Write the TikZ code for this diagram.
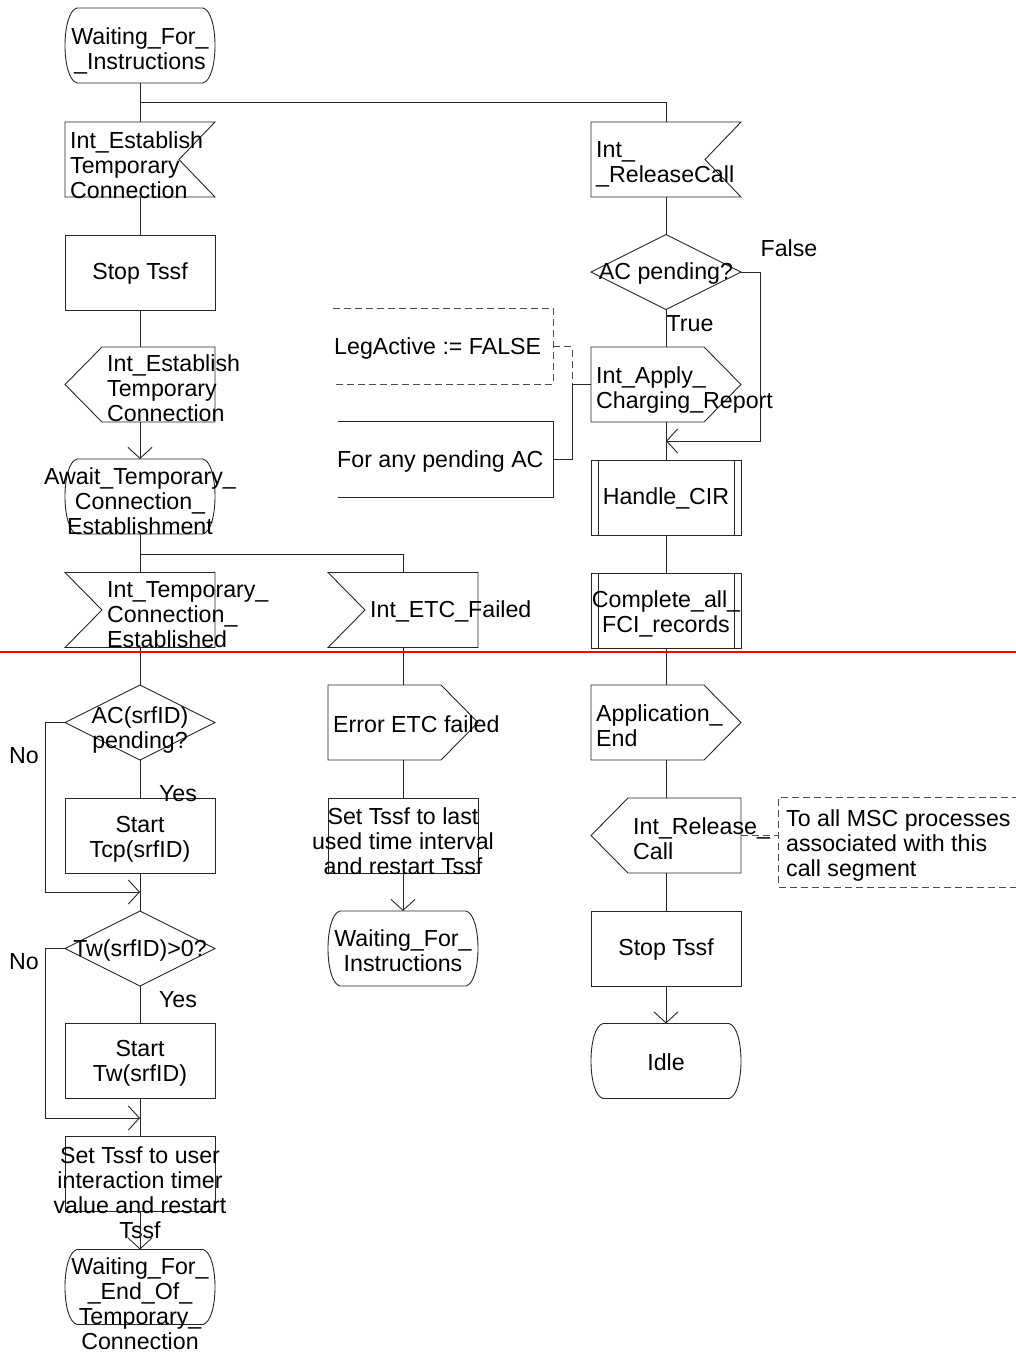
\documentclass[tikz,border=0pt]{standalone}
\usepackage{fontspec}
\setmainfont{Liberation Sans}
\usetikzlibrary{calc,arrows.meta}

% SDL symbol outlines, drawn from the anchors of a plain rectangle node
\newcommand\sdlInR[1]{\draw[shp] (#1.north west) -- (#1.north east) -- ($(#1.east)+(-36,0)$) -- (#1.south east) -- (#1.south west) -- cycle;}
\newcommand\sdlInL[1]{\draw[shp] (#1.north west) -- (#1.north east) -- (#1.south east) -- (#1.south west) -- ($(#1.west)+(37,0)$) -- cycle;}
\newcommand\sdlOutR[1]{\draw[shp] (#1.north west) -- ($(#1.north east)+(-37,0)$) -- (#1.east) -- ($(#1.south east)+(-37,0)$) -- (#1.south west) -- cycle;}
\newcommand\sdlOutL[1]{\draw[shp] ($(#1.north west)+(37,0)$) -- (#1.north east) -- (#1.south east) -- ($(#1.south west)+(37,0)$) -- (#1.west) -- cycle;}
\newcommand\sdlDecision[1]{\draw[shp] (#1.west) -- (#1.north) -- (#1.east) -- (#1.south) -- cycle;}
\newcommand\sdlState[1]{\draw[shp] ($(#1.north west)+(12,0)$) -- ($(#1.north east)+(-12,0)$)
  .. controls ($(#1.north east)+(4,4)$) and ($(#1.south east)+(4,-4)$) .. ($(#1.south east)+(-12,0)$)
  -- ($(#1.south west)+(12,0)$)
  .. controls ($(#1.south west)+(-4,-4)$) and ($(#1.north west)+(-4,4)$) .. cycle;}
\newcommand\sdlProc[1]{\draw[shp] (#1.north west) rectangle (#1.south east);
  \draw[shp] ($(#1.north west)+(7,0)$) -- ($(#1.south west)+(7,0)$);
  \draw[shp] ($(#1.north east)+(-7,0)$) -- ($(#1.south east)+(-7,0)$);}

\tikzset{
  shp/.style={draw=black!85, line width=0.9pt},
  dsh/.style={draw=black!70, line width=0.9pt, dash pattern=on 7pt off 4pt},
  flow/.style={draw=black!85, line width=0.9pt},
  arr/.style={flow, -{Straight Barb[length=11pt,width=24pt]}},
  box/.style={rectangle, minimum width=150pt, minimum height=75pt, inner sep=0pt, outer sep=0pt},
  taskbox/.style={box, shp},
  txt/.style={inner sep=0pt, font=\fontsize{23.2}{25}\selectfont},
  txtC/.style={txt, align=center},
  txtL/.style={txt, align=left, anchor=west},
}

\begin{document}
\begin{tikzpicture}[x=1pt, y=-1pt]
\useasboundingbox (0,0) rectangle (1016,1353);

% ---------- left column ----------
\node[box] (S1) at (140,45.5) {};
\node[box] (I1) at (140,159.5) {};
\node[taskbox] (T1) at (140,272.5) {};
\node[box] (O1) at (140,384.5) {};
\node[box] (S2) at (140,496.5) {};
\node[box] (I2) at (140,610) {};
\node[box] (D1) at (140,722.5) {};
\node[taskbox] (T2) at (140,835.5) {};
\node[box] (D2) at (140,948.5) {};
\node[taskbox] (T3) at (140,1060.5) {};
\node[taskbox] (T4) at (140,1174) {};
\node[box] (S3) at (140,1287) {};

% ---------- middle column ----------
\node[box] (I3) at (403,610) {};
\node[box] (O2) at (403,722.5) {};
\node[taskbox] (T5) at (403,835.5) {};
\node[box] (S4) at (403,948.5) {};

% ---------- right column ----------
\node[box] (I4) at (666,159.5) {};
\node[box] (D3) at (666,272) {};
\node[box] (O3) at (666,384.5) {};
\node[box] (P1) at (666,497.5) {};
\node[box] (P2) at (666,610.5) {};
\node[box] (O4) at (666,722.5) {};
\node[box] (O5) at (666,835.5) {};
\node[taskbox] (T6) at (666,948.5) {};
\node[box] (S5) at (666,1061) {};

% ---------- comment frames ----------
\node[rectangle, minimum width=220pt, minimum height=75pt, inner sep=0pt] (C1) at (443,346.5) {};
\node[rectangle, minimum width=215pt, minimum height=75pt, inner sep=0pt] (C2) at (445.5,459.5) {};
\node[rectangle, minimum width=240pt, minimum height=89pt, inner sep=0pt] (C3) at (899,842.5) {};

% outlines
\sdlState{S1} \sdlInR{I1} \sdlOutL{O1} \sdlState{S2} \sdlInL{I2}
\sdlDecision{D1} \sdlDecision{D2} \sdlState{S3}
\sdlInL{I3} \sdlOutR{O2} \sdlState{S4}
\sdlInR{I4} \sdlDecision{D3} \sdlOutR{O3} \sdlProc{P1} \sdlProc{P2}
\sdlOutR{O4} \sdlOutL{O5} \sdlState{S5}
\draw[dsh] (C1.north west) -- (C1.north east) -- (C1.south east) -- (C1.south west);
\draw[shp] (C2.north west) -- (C2.north east) -- (C2.south east) -- (C2.south west);
\draw[dsh] (C3.north east) -- (C3.north west) -- (C3.south west) -- (C3.south east);

% texts
\node[txtC] (S1t) at (140,51) {Waiting\_For\_\\\_Instructions};
\node[txtL] (I1t) at (70,165) {Int\_Establish\\Temporary\\Connection};
\node[txtC] (T1t) at (140,273.5) {Stop Tssf};
\node[txtL] (O1t) at (107,388) {Int\_Establish\\Temporary\\Connection};
\node[txtC] (S2t) at (140,501) {Await\_Temporary\_\\Connection\_\\Establishment};
\node[txtL] (I2t) at (107,615) {Int\_Temporary\_\\Connection\_\\Established};
\node[txtC] (D1t) at (140,730) {AC(srfID)\\pending?};
\node[txtC] (T2t) at (140,839) {Start\\Tcp(srfID)};
\node[txtC] (D2t) at (140,950) {Tw(srfID)>0?};
\node[txtC] (T3t) at (140,1063) {Start\\Tw(srfID)};
\node[txtC] (T4t) at (140,1192.5) {Set Tssf to user\\interaction timer\\value and restart\\Tssf};
\node[txtC] (S3t) at (140,1303.5) {Waiting\_For\_\\\_End\_Of\_\\Temporary\_\\Connection};

\node[txtL] (I3t) at (370,611) {Int\_ETC\_Failed};
\node[txtL] (O2t) at (333,724) {Error ETC failed};
\node[txtC] (T5t) at (403,841) {Set Tssf to last\\used time interval\\and restart Tssf};
\node[txtC] (S4t) at (403,951) {Waiting\_For\_\\Instructions};

\node[txtL] (I4t) at (596,164.5) {Int\_\\\_ReleaseCall};
\node[txtC] (D3t) at (666,273) {AC pending?};
\node[txtL] (O3t) at (596,389.5) {Int\_Apply\_\\Charging\_Report};
\node[txtC] (P1t) at (666,498.5) {Handle\_CIR};
\node[txtC] (P2t) at (666,614) {Complete\_all\_\\FCI\_records};
\node[txtL] (O4t) at (596,726) {Application\_\\End};
\node[txtL] (O5t) at (633,838.5) {Int\_Release\_\\Call};
\node[txtC] (T6t) at (666,949.5) {Stop Tssf};
\node[txtC] (S5t) at (666,1062) {Idle};

\node[txtL] (C1t) at (334,348) {LegActive := FALSE};
\node[txtL] (C2t) at (337,461) {For any pending AC};
\node[txtL] (C3t) at (786,845) {To all MSC processes\\associated with this\\call segment};

% branch labels
\node[txt] (no1) at (24,756) {No};
\node[txt] (no2) at (24,962) {No};
\node[txt] (yes1) at (178,794) {Yes};
\node[txt] (yes2) at (178,1000) {Yes};
\node[txt] (true1) at (690,324) {True};
\node[txt] (false1) at (789,248) {False};

% junction points
\coordinate (br1) at (140,102);
\coordinate (br2) at (140,554);
\coordinate (m1) at (140,892);
\coordinate (m2) at (140,1118);
\coordinate (m3) at (666,441);
\coordinate (j1) at (572,384.5);

% connectors: left column
\draw[flow] (S1.south) -- (I1.north);
\draw[flow] (br1) -| (I4.north);
\draw[flow] (I1.south) -- (T1.north);
\draw[flow] (T1.south) -- (O1.north);
\draw[arr] (O1.south) -- (S2.north);
\draw[flow] (S2.south) -- (I2.north);
\draw[flow] (br2) -| (I3.north);
\draw[flow] (I2.south) -- (D1.north);
\draw[flow] (D1.south) -- (T2.north);
\draw[arr] (D1.west) -- ++(-20,0) |- (m1);
\draw[flow] (T2.south) -- (D2.north);
\draw[flow] (D2.south) -- (T3.north);
\draw[arr] (D2.west) -- ++(-20,0) |- (m2);
\draw[flow] (T3.south) -- (T4.north);
\draw[arr] (T4.south) -- (S3.north);

% connectors: middle column
\draw[flow] (I3.south) -- (O2.north);
\draw[flow] (O2.south) -- (T5.north);
\draw[arr] (T5.south) -- (S4.north);

% connectors: right column
\draw[flow] (I4.south) -- (D3.north);
\draw[flow] (D3.south) -- (O3.north);
\draw[arr] (D3.east) -- ++(19,0) |- (m3);
\draw[flow] (O3.south) -- (P1.north);
\draw[flow] (P1.south) -- (P2.north);
\draw[flow] (P2.south) -- (O4.north);
\draw[flow] (O4.south) -- (O5.north);
\draw[flow] (O5.south) -- (T6.north);
\draw[arr] (T6.south) -- (S5.north);

% comment attachments
\draw[dsh] (C1.east) -| (j1);
\draw[flow] (O3.west) -- (j1) |- (C2.east);
\draw[dsh] (O5.east) -- (O5.east -| C3.west);

% page break marker
\draw[red, line width=2pt] (0,652) -- (1016,652);
\end{tikzpicture}
\end{document}
